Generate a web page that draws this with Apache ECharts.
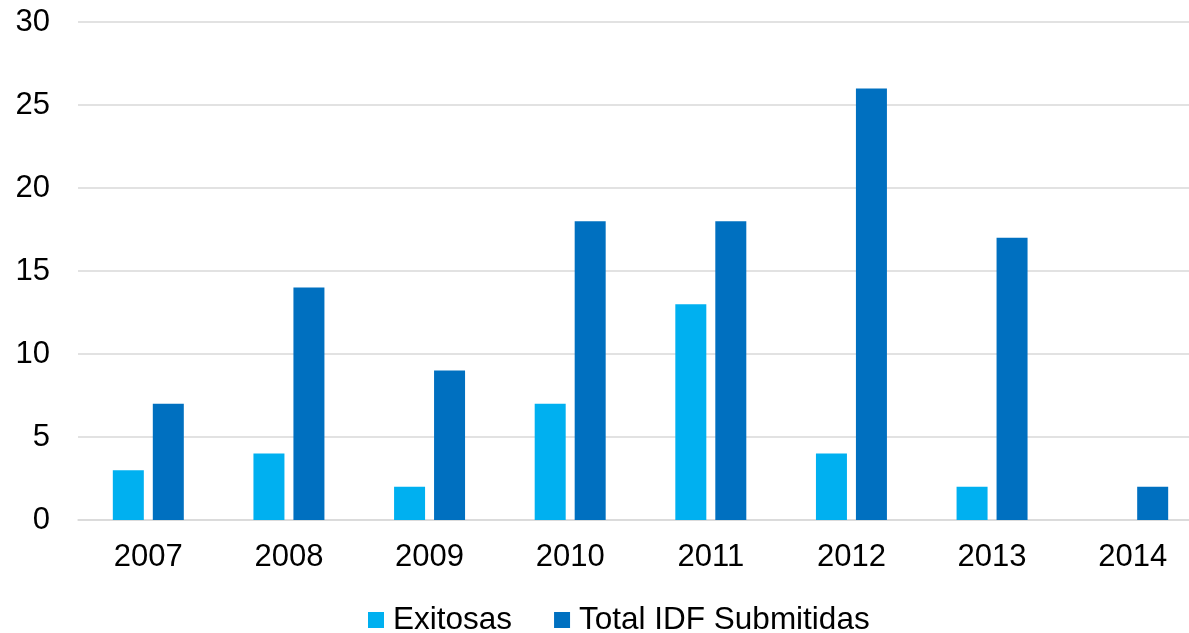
<!DOCTYPE html>
<html>
<head>
<meta charset="utf-8">
<script src="https://cdn.jsdelivr.net/npm/echarts@6/dist/echarts.min.js"></script>
<style>
  html, body { margin: 0; padding: 0; background: #fff; }
  #chart { width: 1189px; height: 633px; }
</style>
</head>
<body>
<div id="chart"></div>
<script>
// Years on the category axis
const years = ['2007', '2008', '2009', '2010', '2011', '2012', '2013', '2014'];
// Successful IDF per year
const exitosas = [3, 4, 2, 7, 13, 4, 2, 0];
// Total IDF submitted per year
const totalIdf = [7, 14, 9, 18, 18, 26, 17, 2];
// Value-axis range
const yMin = 0, yMax = 30, yStep = 5;

const font = '"Liberation Sans", Arial, sans-serif';
const chart = echarts.init(document.getElementById('chart'), null, { renderer: 'canvas' });

chart.setOption({
  animation: false,
  backgroundColor: '#ffffff',
  grid: {
    left: 78,
    top: 22,
    width: 1125,
    height: 498,
    outerBoundsMode: 'none',
    containLabel: false
  },
  legend: {
    bottom: -8,
    left: 363,
    itemWidth: 16,
    itemHeight: 16,
    itemGap: 42,
    icon: 'rect',
    textStyle: {
      fontFamily: font,
      fontSize: 31.5,
      color: '#000',
      padding: [0, 0, 0, 4]
    },
    data: ['Exitosas', 'Total IDF Submitidas']
  },
  xAxis: {
    type: 'category',
    data: years,
    axisTick: { show: false },
    axisLine: { show: true, lineStyle: { color: '#d9d9d9', width: 1.5 } },
    axisLabel: {
      fontFamily: font,
      fontSize: 31,
      color: '#000',
      margin: 22
    }
  },
  yAxis: {
    type: 'value',
    min: yMin,
    max: yMax,
    interval: yStep,
    axisLine: { show: false },
    axisTick: { show: false },
    splitLine: { lineStyle: { color: '#d9d9d9', width: 1.5 } },
    axisLabel: {
      fontFamily: font,
      fontSize: 31,
      color: '#000',
      margin: 28
    }
  },
  series: [
    {
      name: 'Exitosas',
      type: 'bar',
      data: exitosas,
      barWidth: 31,
      barGap: '29%',
      itemStyle: { color: '#00b0f0' }
    },
    {
      name: 'Total IDF Submitidas',
      type: 'bar',
      data: totalIdf,
      barWidth: 31,
      barGap: '29%',
      itemStyle: { color: '#0070c0' }
    }
  ]
});
</script>
</body>
</html>
